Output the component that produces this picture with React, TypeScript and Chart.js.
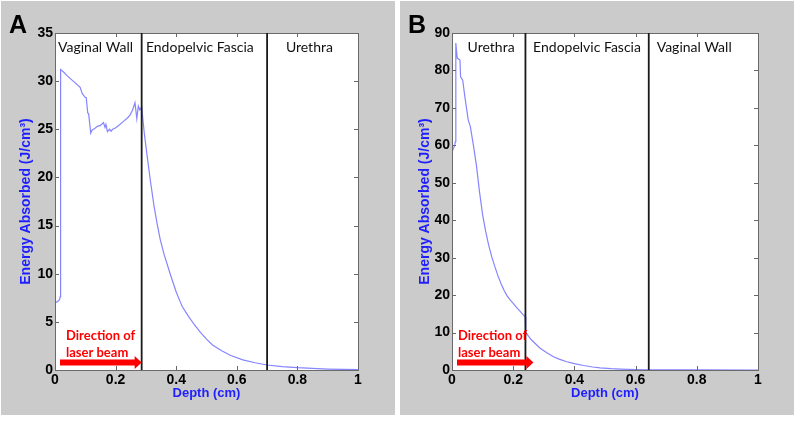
import React, { useEffect, useRef } from "react";
import { Chart, registerables } from "chart.js";

Chart.register(...registerables);

// ---------- Panel A data ----------
const depthA = [0, 0.008, 0.015, 0.017, 0.018, 0.019, 0.03, 0.039, 0.06, 0.083, 0.09, 0.1, 0.103, 0.108, 0.111, 0.118, 0.122, 0.132, 0.14, 0.15, 0.16, 0.165, 0.168, 0.173, 0.18, 0.185, 0.19, 0.198, 0.21, 0.225, 0.24, 0.248, 0.256, 0.264, 0.27, 0.275, 0.28, 0.286, 0.295, 0.305, 0.315, 0.327, 0.337, 0.347, 0.36, 0.38, 0.4, 0.413, 0.42, 0.44, 0.46, 0.48, 0.5, 0.52, 0.55, 0.58, 0.62, 0.66, 0.7, 0.75, 0.8, 0.85, 0.9, 0.95, 1.0];
const energyA = [7.0, 7.1, 7.3, 7.6, 15, 31.2, 30.9, 30.6, 30.0, 29.35, 28.7, 28.3, 28.3, 26.7, 26.6, 24.6, 24.9, 25.1, 25.3, 25.4, 25.7, 25.2, 25.5, 24.75, 25.0, 24.8, 25.0, 25.1, 25.4, 25.8, 26.2, 26.5, 27.0, 27.75, 26.1, 27.4, 27.0, 27.3, 24.5, 22.0, 19.6, 17.0, 15.2, 13.6, 12.0, 10.0, 8.1, 7.1, 6.6, 5.6, 4.7, 3.9, 3.2, 2.6, 2.0, 1.5, 1.05, 0.75, 0.52, 0.36, 0.24, 0.16, 0.1, 0.07, 0.05];
const boundariesA = [0.286, 0.7];
const regionsA = ["Vaginal Wall", "Endopelvic Fascia", "Urethra"];
const regionLabelDepthA = [0.01, 0.3, 0.762];
const yMaxA = 35;
const yStepA = 5;

// ---------- Panel B data ----------
const depthB = [0, 0.005, 0.009, 0.011, 0.012, 0.013, 0.015, 0.017, 0.026, 0.028, 0.035, 0.042, 0.053, 0.06, 0.07, 0.08, 0.09, 0.1, 0.11, 0.12, 0.13, 0.14, 0.15, 0.16, 0.17, 0.18, 0.19, 0.2, 0.21, 0.22, 0.23, 0.239, 0.241, 0.26, 0.288, 0.31, 0.33, 0.35, 0.375, 0.4, 0.43, 0.46, 0.484, 0.52, 0.55, 0.6, 0.645, 0.7, 0.8, 1.0];
const energyB = [58.3, 59.2, 60.1, 61, 68, 87.3, 85, 83.3, 82.8, 78.3, 77.4, 73, 66.8, 65, 60, 54.5, 47.5, 41.5, 37, 33.3, 30.2, 27.6, 25.2, 23.1, 21.3, 19.8, 18.7, 17.8, 16.8, 15.9, 15.0, 14.2, 10.0, 8.0, 5.8, 4.6, 3.6, 2.9, 2.2, 1.7, 1.2, 0.8, 0.55, 0.35, 0.25, 0.12, 0.05, 0.02, 0.01, 0];
const boundariesB = [0.24, 0.643];
const regionsB = ["Urethra", "Endopelvic Fascia", "Vaginal Wall"];
const regionLabelDepthB = [0.051, 0.265, 0.669];
const yMaxB = 90;
const yStepB = 10;

const xTickLabels = ["0", "0.2", "0.4", "0.6", "0.8", "1"];
const yTitle = "Energy Absorbed (J/cm\u00B3)";
const xTitle = "Depth (cm)";
const arrowText = ["Direction of", "laser beam"];

const GRAY = "#cbcbcb";
const BLUE_TITLE = "#1e1eff";
const LINE = "#8585ff";
const TICK_FONT = "'Liberation Sans', Arial, sans-serif";
const LABEL_FONT = "Lato, 'Open Sans', sans-serif";

type PanelProps = {
  letter: string;
  depth: number[];
  energy: number[];
  boundaries: number[];
  regions: string[];
  regionDepths: number[];
  yMax: number;
  yStep: number;
  left: number;
  grayX: number;
  grayW: number;
  padLeft: number;
  yWidth: number;
  letterX: number;
  arrowStart: number;
  arrowTip: number;
  textOffset: number;
};

function Panel(p: PanelProps) {
  const ref = useRef<HTMLCanvasElement | null>(null);
  useEffect(() => {
    if (!ref.current) return;
    const deco = {
      id: "deco" + p.letter,
      beforeDraw(chart: any) {
        const { ctx, chartArea: ca } = chart;
        ctx.save();
        ctx.fillStyle = "#ffffff";
        ctx.fillRect(0, 0, chart.width, chart.height);
        ctx.fillStyle = GRAY;
        ctx.fillRect(p.grayX, 1, p.grayW, 414);
        ctx.fillStyle = "#ffffff";
        ctx.fillRect(ca.left, ca.top, ca.right - ca.left, ca.bottom - ca.top);
        ctx.restore();
      },
      afterDatasetsDraw(chart: any) {
        const { ctx, chartArea: ca, scales } = chart;
        const xs = scales.x;
        const ys = scales.y;
        ctx.save();
        // inner tick marks
        ctx.strokeStyle = "#666666";
        ctx.lineWidth = 1;
        ctx.beginPath();
        ys.ticks.forEach((t: any) => {
          const y = Math.round(ys.getPixelForValue(t.value)) + 0.5;
          ctx.moveTo(ca.left, y);
          ctx.lineTo(ca.left + 4, y);
          ctx.moveTo(ca.right, y);
          ctx.lineTo(ca.right - 4, y);
        });
        xs.ticks.forEach((t: any) => {
          const x = Math.round(xs.getPixelForValue(t.value)) + 0.5;
          ctx.moveTo(x, ca.bottom);
          ctx.lineTo(x, ca.bottom - 4);
          ctx.moveTo(x, ca.top);
          ctx.lineTo(x, ca.top + 4);
        });
        ctx.stroke();
        // frame
        ctx.strokeStyle = "#6a6a6a";
        ctx.strokeRect(Math.round(ca.left) + 0.5, Math.round(ca.top) + 0.5, Math.round(ca.right - ca.left), Math.round(ca.bottom - ca.top));
        // boundaries
        ctx.strokeStyle = "#1a1a1a";
        ctx.lineWidth = 1.8;
        ctx.beginPath();
        p.boundaries.forEach((b) => {
          const x = xs.getPixelForValue(b);
          ctx.moveTo(x, ca.top);
          ctx.lineTo(x, ca.bottom);
        });
        ctx.stroke();
        // region labels
        ctx.fillStyle = "#111111";
        ctx.font = "14px " + LABEL_FONT;
        ctx.textAlign = "left";
        ctx.textBaseline = "alphabetic";
        p.regions.forEach((r, i) => {
          ctx.fillText(r, xs.getPixelForValue(p.regionDepths[i]), ca.top + 19);
        });
        // arrow text
        ctx.fillStyle = "#ff0000";
        ctx.font = "bold 13px " + LABEL_FONT;
        ctx.fillText(arrowText[0], ca.left + p.textOffset, ca.bottom - 30);
        ctx.fillText(arrowText[1], ca.left + p.textOffset, ca.bottom - 13.5);
        // arrow
        const x0 = ca.left + p.arrowStart;
        const x1 = xs.getPixelForValue(p.arrowTip);
        const yc = ca.bottom - 7.5;
        const headLen = 7;
        ctx.beginPath();
        ctx.moveTo(x0, yc - 3);
        ctx.lineTo(x1 - headLen, yc - 3);
        ctx.lineTo(x1 - headLen, yc - 6.5);
        ctx.lineTo(x1, yc);
        ctx.lineTo(x1 - headLen, yc + 6.5);
        ctx.lineTo(x1 - headLen, yc + 3);
        ctx.lineTo(x0, yc + 3);
        ctx.closePath();
        ctx.fill();
        // panel letter
        ctx.fillStyle = "#000000";
        ctx.font = "bold 25px " + TICK_FONT;
        ctx.fillText(p.letter, p.letterX, 33);
        ctx.restore();
      },
    };

    const chart = new Chart(ref.current, {
      type: "line",
      data: {
        datasets: [
          {
            data: p.depth.map((d, i) => ({ x: d, y: p.energy[i] })),
            borderColor: LINE,
            borderWidth: 1.2,
            pointRadius: 0,
            tension: 0,
            fill: false,
          },
        ],
      },
      options: {
        animation: false,
        responsive: false,
        events: [],
        layout: { padding: { left: p.padLeft, top: 33, right: 42, bottom: 20 } },
        plugins: { legend: { display: false }, tooltip: { enabled: false } },
        scales: {
          x: {
            type: "linear",
            min: 0,
            max: 1,
            ticks: {
              stepSize: 0.2,
              padding: 2,
              color: "#000000",
              font: { family: TICK_FONT, size: 14, weight: "bold" },
              maxRotation: 0,
              callback: (v: any) => xTickLabels[Math.round(Number(v) * 5)],
            },
            grid: { display: false, drawTicks: false },
            border: { display: false },
            title: {
              display: true,
              text: xTitle,
              color: BLUE_TITLE,
              font: { family: TICK_FONT, size: 13, weight: "bold" },
              padding: 0,
            },
            afterFit: (s: any) => {
              s.height = 31;
            },
          },
          y: {
            type: "linear",
            min: 0,
            max: p.yMax,
            ticks: {
              stepSize: p.yStep,
              padding: 2,
              color: "#000000",
              font: { family: TICK_FONT, size: 14, weight: "bold" },
            },
            grid: { display: false, drawTicks: false },
            border: { display: false },
            title: {
              display: true,
              text: yTitle,
              color: BLUE_TITLE,
              font: { family: TICK_FONT, size: 14, weight: "bold" },
              padding: 0,
            },
            afterFit: (s: any) => {
              s.width = p.yWidth;
            },
          },
        },
      },
      plugins: [deco],
    } as any);
    return () => chart.destroy();
  }, []);

  return (
    <canvas
      ref={ref}
      width={400}
      height={421}
      style={{ position: "absolute", left: p.left, top: 0, width: 400, height: 421 }}
    />
  );
}

export default function App() {
  return (
    <div style={{ position: "absolute", left: 0, top: 0, width: 800, height: 421, background: "#ffffff", overflow: "hidden" }}>
      <Panel
        letter="A"
        depth={depthA}
        energy={energyA}
        boundaries={boundariesA}
        regions={regionsA}
        regionDepths={regionLabelDepthA}
        yMax={yMaxA}
        yStep={yStepA}
        left={0}
        grayX={1}
        grayW={394}
        padLeft={18}
        yWidth={37}
        letterX={9}
        arrowStart={5}
        arrowTip={0.286}
        textOffset={11}
      />
      <Panel
        letter="B"
        depth={depthB}
        energy={energyB}
        boundaries={boundariesB}
        regions={regionsB}
        regionDepths={regionLabelDepthB}
        yMax={yMaxB}
        yStep={yStepB}
        left={400}
        grayX={0}
        grayW={394}
        padLeft={17}
        yWidth={35}
        letterX={8}
        arrowStart={5}
        arrowTip={0.266}
        textOffset={6}
      />
    </div>
  );
}
